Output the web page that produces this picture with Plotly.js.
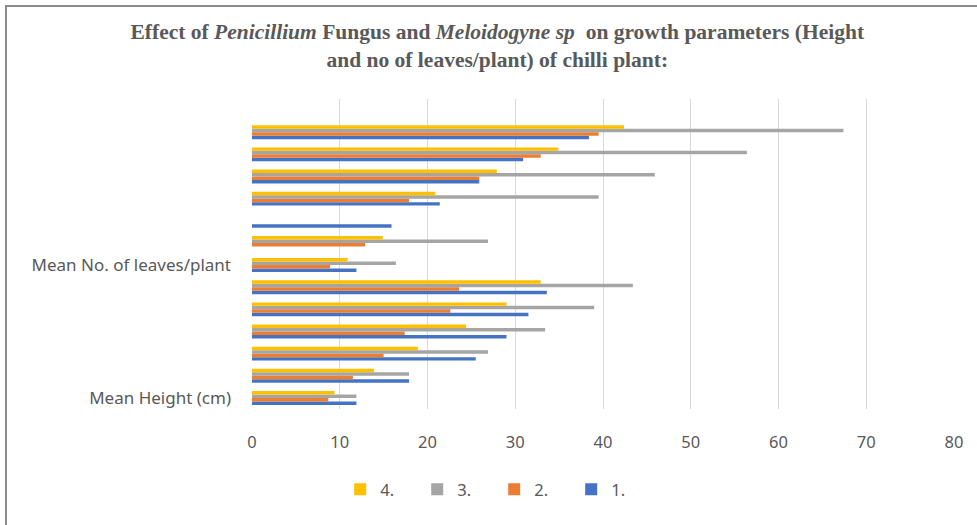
<!DOCTYPE html>
<html>
<head>
<meta charset="utf-8">
<script src="https://cdn.plot.ly/plotly-3.0.1.min.js"></script>
<style>
  html, body { margin: 0; padding: 0; background: #fff; }
  #wrap { position: relative; width: 977px; height: 525px; overflow: hidden; }
  #chart { width: 977px; height: 525px; }
  #frame { position: absolute; left: 5px; top: 5px; width: 1000px; height: 600px;
           border: 2px solid #8c8c8c; pointer-events: none; box-sizing: border-box; }
</style>
</head>
<body>
<div id="wrap">
  <div id="chart"></div>
  <div id="frame"></div>
</div>
<script>
// Categories bottom-to-top (Excel rows); only two carry labels
const categories = ["r1","r2","r3","r4","r5","r6","r7","r8","r9","r10","r11","r12","r13","r14"];
const labelledCats = ["r1", "r7"];
const labelTexts = ["Mean Height (cm)", "Mean No. of leaves/plant"];

const seriesNames = ["1.", "2.", "3.", "4."];
const s1 = [11.9, 17.9, 25.5, 29.0, 31.5, 33.6, 11.9, null, 15.9, 21.4, 25.9, 30.9, 38.4, null];
const s2 = [8.7, 11.5, 15.0, 17.4, 22.6, 23.6, 8.9, 12.9, null, 17.9, 25.9, 32.9, 39.5, null];
const s3 = [11.9, 17.9, 26.9, 33.4, 39.0, 43.4, 16.4, 26.9, null, 39.5, 45.9, 56.4, 67.4, null];
const s4 = [9.4, 13.9, 18.9, 24.4, 29.0, 32.9, 10.9, 14.9, null, 20.9, 27.9, 34.9, 42.4, null];
const seriesValues = [s1, s2, s3, s4];
const colors = ["#4472c4", "#ed7d31", "#a5a5a5", "#ffc000"];

const xTicks = [0, 10, 20, 30, 40, 50, 60, 70, 80];

const traces = seriesValues.map((vals, i) => ({
  type: "bar",
  orientation: "h",
  name: seriesNames[i],
  y: categories,
  x: vals,
  marker: { color: colors[i], line: { width: 0 } },
  hoverinfo: "x+name"
}));

const layout = {
  width: 977,
  height: 525,
  paper_bgcolor: "#ffffff",
  plot_bgcolor: "#ffffff",
  margin: { l: 252, r: 23, t: 99, b: 116, pad: 0 },
  barmode: "group",
  bargap: 0.37,
  bargroupgap: 0,
  title: {
    text: "Effect of <i>Penicillium</i> Fungus and <i>Meloidogyne sp</i>  on growth parameters (Height<br>and no of leaves/plant) of chilli plant:",
    font: { family: "Liberation Serif, Times New Roman, serif", size: 21.5, color: "#595959", weight: "bold" },
    x: 0.509,
    xanchor: "center",
    xref: "container",
    y: 0.925,
    yanchor: "middle",
    yref: "container"
  },
  xaxis: {
    range: [0, 80],
    tickvals: xTicks,
    ticktext: xTicks.map(String),
    showgrid: true,
    gridcolor: "#d9d9d9",
    gridwidth: 1,
    zeroline: false,
    showline: false,
    ticks: "",
    ticklabelstandoff: 21,
    tickfont: { family: "Noto Sans, Liberation Sans, sans-serif", size: 16.5, color: "#595959" },
    fixedrange: true
  },
  yaxis: {
    type: "category",
    categoryorder: "array",
    categoryarray: categories,
    range: [-0.5, 13.5],
    tickvals: labelledCats,
    ticktext: labelTexts,
    showgrid: false,
    zeroline: false,
    showline: false,
    ticks: "",
    ticklabelstandoff: 20,
    tickfont: { family: "Noto Sans, Liberation Sans, sans-serif", size: 17, color: "#595959" },
    fixedrange: true
  },
  showlegend: true,
  legend: {
    orientation: "h",
    traceorder: "reversed",
    x: 0.345,
    xanchor: "center",
    y: -0.26,
    yanchor: "middle",
    entrywidth: 32,
    entrywidthmode: "pixels",
    itemwidth: 30,
    font: { family: "Noto Sans, Liberation Sans, sans-serif", size: 16.5, color: "#595959" },
    bgcolor: "rgba(0,0,0,0)"
  }
};

Plotly.newPlot("chart", traces, layout, { displayModeBar: false, staticPlot: true });
</script>
</body>
</html>
